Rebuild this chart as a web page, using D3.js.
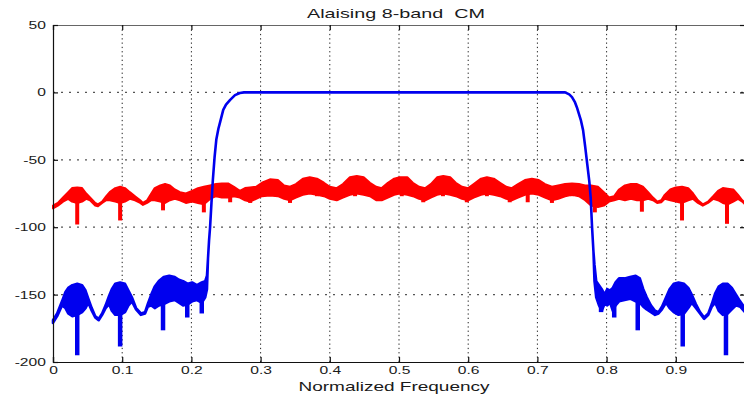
<!DOCTYPE html>
<html>
<head>
<meta charset="utf-8">
<script src="https://cdn.jsdelivr.net/npm/d3@7"></script>
<style>
  html, body { margin: 0; padding: 0; background: #fff; overflow: hidden; }
  svg { display: block; font-family: "Liberation Sans", Arial, Helvetica, sans-serif; }
  text { fill: #1a1a1a; white-space: pre; }
</style>
</head>
<body>
<svg id="chart" width="744" height="395"></svg>
<script>
// Axis ticks and labels
const xTicks = [0, 0.1, 0.2, 0.3, 0.4, 0.5, 0.6, 0.7, 0.8, 0.9, 1];
const xTickLabels = ["0", "0.1", "0.2", "0.3", "0.4", "0.5", "0.6", "0.7", "0.8", "0.9", ""];
const yTicks = [-200, -150, -100, -50, 0, 50];
const yTickLabels = ["-200", "-150", "-100", "-50", "0", "50"];
const titleText = "Alaising 8-band  CM";
const xLabelText = "Normalized Frequency";

// Prototype filter magnitude (dB): frequency, upper and lower edge of the ripple band
const blueFreq = [
  0.000, 0.006, 0.013, 0.018, 0.022, 0.028, 0.035, 0.042, 0.047, 0.051,
  0.056, 0.061, 0.066, 0.071, 0.076, 0.081, 0.085, 0.090, 0.097, 0.104,
  0.109, 0.114, 0.120, 0.127, 0.133, 0.137, 0.142, 0.147, 0.153, 0.160,
  0.168, 0.176, 0.182, 0.188, 0.195, 0.201, 0.208, 0.215, 0.220, 0.2225,
  0.224, 0.2255, 0.227, 0.229, 0.231, 0.2335, 0.236, 0.239, 0.2415, 0.246,
  0.250, 0.256, 0.263, 0.270, 0.276, 0.500, 0.740, 0.746, 0.750, 0.754,
  0.757, 0.760, 0.763, 0.766, 0.769, 0.772, 0.775, 0.777, 0.779, 0.781,
  0.7825, 0.785, 0.789, 0.793, 0.797, 0.801, 0.805, 0.809, 0.813, 0.818,
  0.826, 0.834, 0.842, 0.848, 0.853, 0.858, 0.864, 0.870, 0.875, 0.880,
  0.886, 0.891, 0.897, 0.904, 0.912, 0.918, 0.923, 0.929, 0.935, 0.941,
  0.947, 0.952, 0.957, 0.962, 0.968, 0.975, 0.981, 0.987, 0.993, 1.000
];
const blueUpper = [
  -169, -164, -155, -148, -145, -143, -142, -143, -147, -153,
  -160, -166, -168, -164, -158, -151, -146, -142, -141, -142,
  -147, -152, -160, -164, -163, -157, -150, -144, -140, -137,
  -136, -137, -139, -140, -142, -141, -143, -141, -140, -136,
  -123, -110, -100, -82, -65, -48, -35, -27, -22, -13,
  -9, -5.5, -2, -0.4, 0, 0, 0, -1.5, -3.5, -7,
  -11, -16, -21, -28, -40, -53, -66, -78, -100, -118,
  -128, -140, -143, -146, -150, -146, -147, -145, -141, -138,
  -138, -137, -136, -138, -146, -152, -158, -162, -163, -159,
  -152, -146, -142, -141, -142, -145, -150, -157, -163, -167,
  -164, -157, -149, -144, -142, -142, -145, -150, -155, -160
];
const blueLower = [
  -171, -166, -158, -160, -164, -166, -165, -163, -160, -156,
  -162, -167, -169, -165, -160, -157, -162, -165, -165, -163,
  -158, -155, -161, -165, -164, -159, -158, -160, -158, -157,
  -155, -154, -156, -158, -157, -155, -154, -156, -152, -146,
  -123, -110, -100, -82, -65, -48, -35, -27, -22, -13,
  -9, -5.5, -2, -0.4, 0, 0, 0, -1.5, -3.5, -7,
  -11, -16, -21, -28, -40, -53, -66, -78, -100, -118,
  -140, -152, -158, -162, -157, -158, -156, -162, -158, -155,
  -154, -153, -155, -156, -159, -161, -163, -165, -164, -161,
  -156, -160, -163, -165, -164, -160, -156, -160, -164, -168,
  -165, -159, -156, -162, -165, -164, -161, -158, -159, -163
];
// Deep notches in the prototype response
const blueSpikeFreq = [0.035, 0.097, 0.159, 0.194, 0.215, 0.792, 0.811, 0.845, 0.910, 0.9725];
const blueSpikeDepth = [-195, -188.5, -176.5, -167, -164, -163, -167, -176.5, -188.5, -195];

// Aliasing error (dB): frequency, upper and lower edge of the ripple band
const redFreq = [
  0.000, 0.007, 0.0145, 0.022, 0.0275, 0.035, 0.042, 0.048, 0.0535, 0.061,
  0.065, 0.071, 0.077, 0.082, 0.090, 0.097, 0.104, 0.111, 0.1185, 0.126,
  0.130, 0.136, 0.142, 0.147, 0.155, 0.162, 0.169, 0.176, 0.1835, 0.192,
  0.201, 0.2095, 0.218, 0.227, 0.2355, 0.244, 0.253, 0.2615, 0.270, 0.2775,
  0.2845, 0.2935, 0.302, 0.3135, 0.325, 0.334, 0.3425, 0.351, 0.361, 0.371,
  0.3815, 0.3915, 0.400, 0.410, 0.419, 0.429, 0.439, 0.449, 0.458, 0.467,
  0.475, 0.484, 0.493, 0.501, 0.512, 0.520, 0.529, 0.538, 0.546, 0.555,
  0.564, 0.574, 0.582, 0.591, 0.600, 0.608, 0.6185, 0.627, 0.637, 0.646,
  0.655, 0.663, 0.672, 0.682, 0.692, 0.702, 0.711, 0.721, 0.730, 0.740,
  0.750, 0.760, 0.769, 0.7775, 0.7875, 0.796, 0.8035, 0.811, 0.818, 0.8265,
  0.835, 0.844, 0.8525, 0.860, 0.867, 0.873, 0.879, 0.884, 0.892, 0.900,
  0.909, 0.918, 0.925, 0.932, 0.939, 0.9465, 0.954, 0.961, 0.968, 0.975,
  0.983, 0.990, 0.996, 1.000
];
const redUpper = [
  -84, -82, -78, -74, -71, -70.5, -71, -75, -78, -82,
  -83, -81, -77, -74, -71, -70, -71, -74, -77, -80,
  -82, -80, -75, -71, -69, -68, -69, -72, -74, -75,
  -73, -71, -70, -69, -68, -67.5, -67.5, -70, -73, -71,
  -70.5, -70, -67, -64.5, -65, -69, -70, -68, -64, -63,
  -64, -67, -70, -71, -68, -63, -62, -63, -67, -70,
  -71, -67, -64, -63, -63, -67, -70, -71, -68, -63,
  -62, -63, -67, -70, -71, -68, -64, -63, -64, -67,
  -70, -71, -68, -65, -64, -65, -68, -70, -69, -68,
  -67.5, -68, -69, -69, -70, -74, -78, -77, -72, -69,
  -68, -68, -70, -74, -78, -81, -80, -76, -72, -70.5,
  -70, -71, -75, -80, -83, -81, -77, -73, -71, -71.5,
  -72, -76, -80, -82
];
const redLower = [
  -86, -84, -81, -79, -81, -82, -81, -79, -80, -84,
  -84.5, -82, -80, -80, -81, -82, -81, -79, -80, -82,
  -83.5, -82, -80, -80, -81, -82, -80, -79, -80, -82,
  -81, -82, -83, -79, -77, -78, -78, -77, -78, -80,
  -81, -79, -77, -76.5, -77, -79, -80, -78, -76, -75,
  -76, -77, -79, -80, -78, -76, -75, -76, -77, -80,
  -80, -78, -76, -75, -76, -77, -79, -80, -78, -76,
  -75, -76, -77, -79, -80, -78, -76, -75, -76, -77,
  -79, -80, -78, -76, -75, -76, -78, -80, -79, -77,
  -76, -77, -80, -84, -85, -84, -81, -80, -79, -80,
  -79, -80, -80, -79, -80, -82, -81.5, -79, -80, -81,
  -82, -80, -79, -82, -84, -82, -79, -80, -82, -83,
  -81, -79, -81, -83
];
// Deep notches in the aliasing error
const redSpikeFreq = [
  0.035, 0.097, 0.159, 0.218, 0.256, 0.285, 0.3425, 0.3815, 0.410, 0.4365,
  0.4725, 0.504, 0.535, 0.5635, 0.598, 0.627, 0.660, 0.686, 0.721, 0.750,
  0.783, 0.851, 0.909, 0.974
];
const redSpikeDepth = [
  -98, -95, -87.5, -89, -81.5, -82, -82, -77, -80, -77,
  -80, -77, -81.5, -77, -81.5, -77, -81.5, -81.5, -82, -77,
  -89, -88.5, -95, -97.5
];

const svg = d3.select("#chart");
const margin = { left: 53, right: 745, top: 25, bottom: 362 };
const x = d3.scaleLinear().domain([0, 1]).range([margin.left, margin.right]);
const y = d3.scaleLinear().domain([-200, 50]).range([margin.bottom, margin.top]);
const labelStretch = 1.42;

// Dotted grid
const grid = svg.append("g");
grid.selectAll("line.vgrid").data(xTicks.slice(1, -1)).join("line")
  .attr("class", "vgrid")
  .attr("x1", d => x(d)).attr("x2", d => x(d))
  .attr("y1", y(-200)).attr("y2", y(50))
  .attr("stroke", "#222").attr("stroke-width", 1)
  .attr("stroke-dasharray", "1.3,3");
grid.selectAll("line.hgrid").data(yTicks.slice(1, -1)).join("line")
  .attr("class", "hgrid")
  .attr("x1", x(0)).attr("x2", x(1))
  .attr("y1", d => y(d)).attr("y2", d => y(d))
  .attr("stroke", "#555").attr("stroke-width", 1.2)
  .attr("stroke-dasharray", "2,6");

// Band shapes: filled between the upper and lower edge, outlined so thin parts read as a line
function bandData(freq, upper, lower) {
  return freq.map((f, i) => ({ f, hi: upper[i], lo: lower[i] }));
}
const area = d3.area()
  .x(d => x(d.f))
  .y0(d => y(d.lo))
  .y1(d => y(d.hi));

function lowerAt(freq, lower, f) {
  const i = d3.bisectLeft(freq, f);
  if (i <= 0) return lower[0];
  if (i >= freq.length) return lower[freq.length - 1];
  const t = (f - freq[i - 1]) / (freq[i] - freq[i - 1]);
  return lower[i - 1] + t * (lower[i] - lower[i - 1]);
}

function drawSeries(freq, upper, lower, spikeF, spikeD, color, width, spikeWidth) {
  const g = svg.append("g");
  g.append("path")
    .datum(bandData(freq, upper, lower))
    .attr("d", area)
    .attr("fill", color)
    .attr("stroke", color)
    .attr("stroke-width", width)
    .attr("stroke-linejoin", "round");
  g.selectAll("line").data(spikeF.map((f, i) => ({ f, d: spikeD[i] }))).join("line")
    .attr("x1", d => x(d.f)).attr("x2", d => x(d.f))
    .attr("y1", d => y(lowerAt(freq, lower, d.f)) - 2)
    .attr("y2", d => y(d.d))
    .attr("stroke", color)
    .attr("stroke-width", spikeWidth);
}

drawSeries(redFreq, redUpper, redLower, redSpikeFreq, redSpikeDepth, "#ff0000", 2, 4);
drawSeries(blueFreq, blueUpper, blueLower, blueSpikeFreq, blueSpikeDepth, "#0000ee", 2.6, 4.5);

// Axes with inward ticks
const xAxis = svg.append("g")
  .attr("transform", `translate(0,${y(-200)})`)
  .call(d3.axisBottom(x).tickValues(xTicks).tickSize(-5).tickPadding(4)
    .tickFormat((d, i) => xTickLabels[i]));
const xAxisTop = svg.append("g")
  .attr("transform", `translate(0,${y(50)})`)
  .call(d3.axisTop(x).tickValues(xTicks).tickSize(-5).tickFormat(""));
const yAxis = svg.append("g")
  .attr("transform", `translate(${x(0)},0)`)
  .call(d3.axisLeft(y).tickValues(yTicks).tickSize(-5).tickPadding(5)
    .tickFormat((d, i) => yTickLabels[i]));
const yAxisRight = svg.append("g")
  .attr("transform", `translate(${x(1)},0)`)
  .call(d3.axisRight(y).tickValues(yTicks).tickSize(-5).tickFormat(""));

[xAxis, xAxisTop, yAxis, yAxisRight].forEach(a => {
  a.select(".domain").attr("stroke", "#111").attr("stroke-width", 1.2);
  a.selectAll(".tick line").attr("stroke", "#111").attr("stroke-width", 1.2);
});
xAxisTop.select(".domain").attr("stroke", "#666");
[xAxis, yAxis].forEach(a => {
  a.selectAll(".tick text")
    .attr("font-size", 11)
    .attr("fill", "#1a1a1a")
    .attr("font-family", "'Liberation Sans', Arial, sans-serif")
    .attr("transform", `scale(${labelStretch},1)`);
});

// Title and axis label
svg.append("text")
  .attr("x", 396).attr("y", 18.3)
  .attr("text-anchor", "middle")
  .attr("font-size", 13.5)
  .attr("textLength", 178)
  .attr("lengthAdjust", "spacingAndGlyphs")
  .text(titleText);
svg.append("text")
  .attr("x", 394).attr("y", 391)
  .attr("text-anchor", "middle")
  .attr("font-size", 13)
  .attr("textLength", 191)
  .attr("lengthAdjust", "spacingAndGlyphs")
  .text(xLabelText);
</script>
</body>
</html>
